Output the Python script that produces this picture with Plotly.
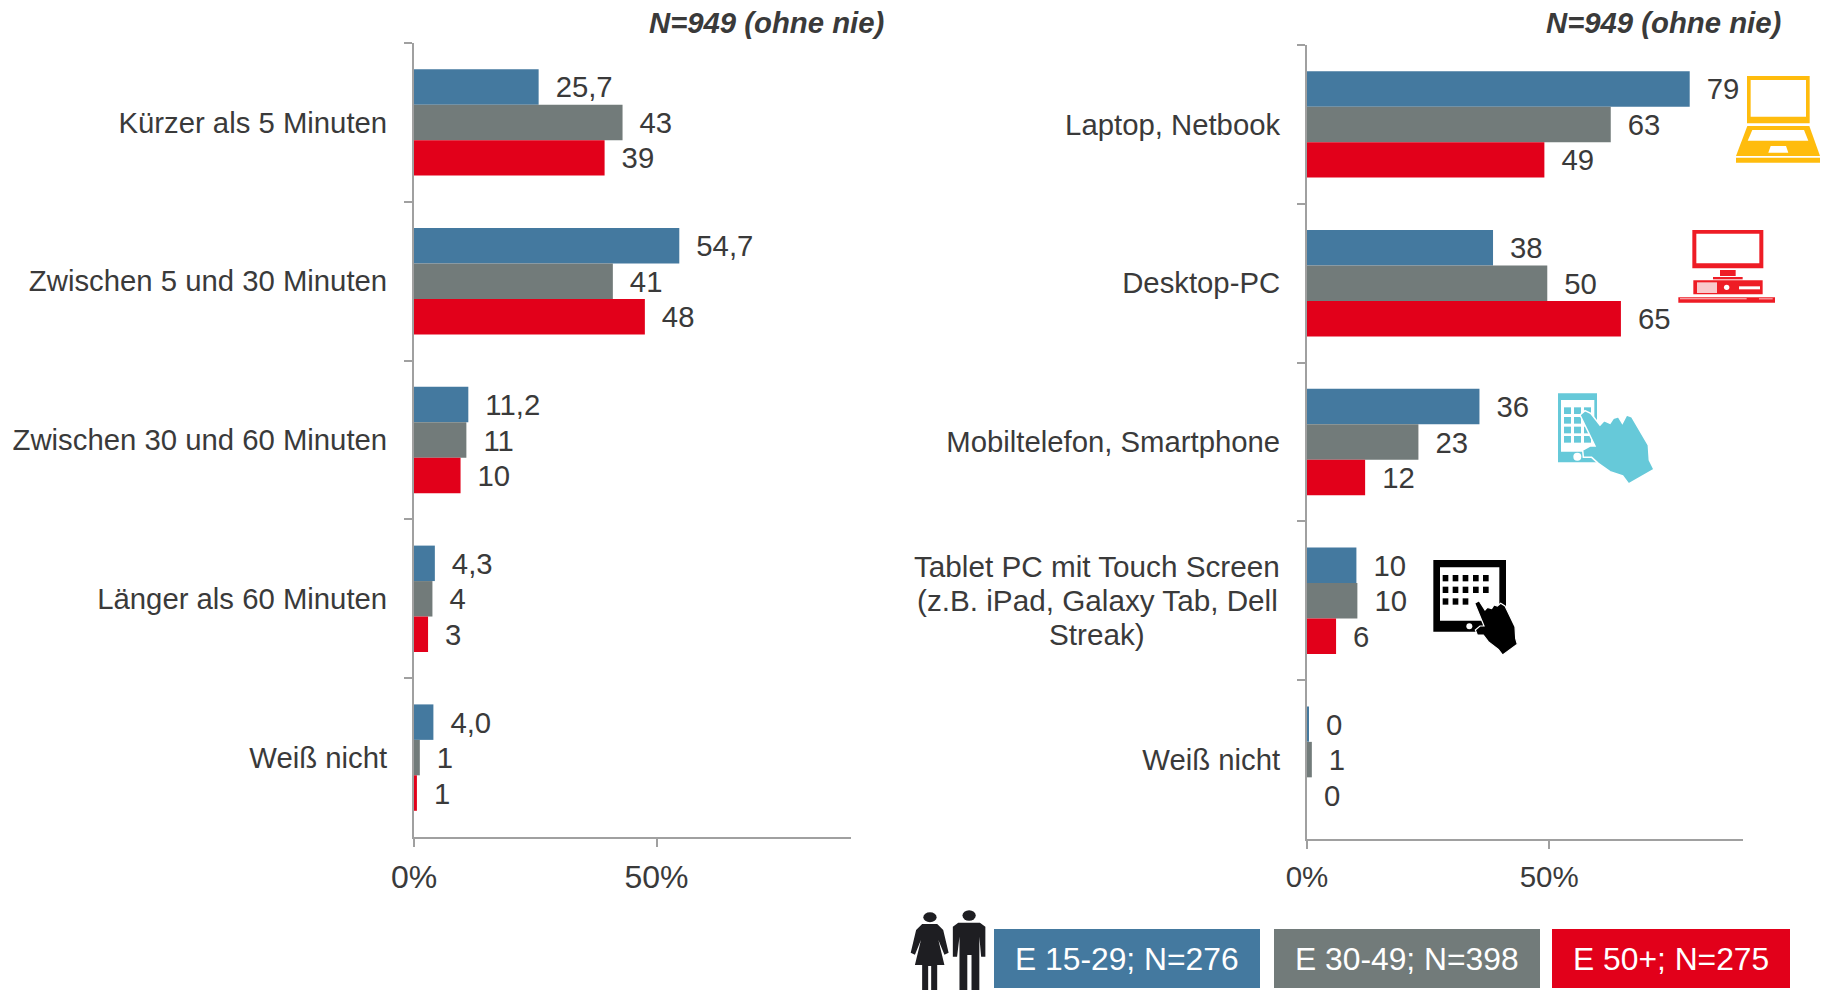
import plotly.graph_objects as go

W, H = 1824, 990
FONT = "Liberation Sans, Arial, sans-serif"
TXT = "#3A3A3A"
BLUE, GRAY, RED = "#44799F", "#727B7A", "#E2001A"
AXIS = "#A0A0A0"
SZ = 29.3

series_names = ["E 15-29; N=276", "E 30-49; N=398", "E 50+; N=275"]
series_colors = [BLUE, GRAY, RED]
title_text = "N=949 (ohne nie)"

left_categories = ["Kürzer als 5 Minuten", "Zwischen 5 und 30 Minuten", "Zwischen 30 und 60 Minuten",
                   "Länger als 60 Minuten", "Weiß nicht"]
left_blue = [25.7, 54.7, 11.2, 4.3, 4.0]
left_gray = [43, 41, 10.8, 3.8, 1.2]
left_red = [39.3, 47.6, 9.6, 2.9, 0.6]
left_blue_labels = ["25,7", "54,7", "11,2", "4,3", "4,0"]
left_gray_labels = ["43", "41", "11", "4", "1"]
left_red_labels = ["39", "48", "10", "3", "1"]

NB = "\u00a0"
GAP = NB + "\u2009"
tablet_lines = ["Tablet PC mit Touch Screen", "(z.B. iPad, Galaxy Tab, Dell", "Streak)"]
tablet_category = " ".join(tablet_lines)
right_categories = ["Laptop, Netbook", "Desktop-PC", "Mobiltelefon, Smartphone", tablet_category, "Weiß nicht"]
right_blue = [79, 38.4, 35.6, 10.2, 0.4]
right_gray = [62.7, 49.6, 23, 10.4, 1]
right_red = [49, 64.8, 12, 6, 0]
right_blue_labels = ["79", "38", "36", "10", "0"]
right_gray_labels = ["63", "50", "23", "10", "1"]
right_red_labels = ["49", "65", "12", "6", "0"]

tick_vals = [0, 50]
tick_text = ["0%", "50%"]

fig = go.Figure()


def add_group(cats, vals, labels, xa, ya):
    for name, color, v, l in zip(series_names, series_colors, vals, labels):
        fig.add_trace(go.Bar(
            y=cats, x=v, name=name, orientation="h", xaxis=xa, yaxis=ya,
            marker=dict(color=color, line=dict(width=0)),
            text=[GAP + t for t in l], textposition="outside", textangle=0,
            textfont=dict(size=SZ, color=TXT, family=FONT),
            cliponaxis=False, showlegend=False, hoverinfo="skip"))


add_group(left_categories, [left_blue, left_gray, left_red],
          [left_blue_labels, left_gray_labels, left_red_labels], "x", "y")
add_group(right_categories, [right_blue, right_gray, right_red],
          [right_blue_labels, right_gray_labels, right_red_labels], "x2", "y2")


def xaxis(x0, x1, anchor, size):
    return dict(domain=[x0 / W, x1 / W], range=[0, 90], anchor=anchor, tickvals=tick_vals, ticktext=tick_text,
                showgrid=False, zeroline=False, showline=True, linecolor=AXIS, linewidth=2,
                ticks="outside", ticklen=8, tickwidth=2, tickcolor=AXIS, ticklabelstandoff=3,
                tickfont=dict(size=size, color=TXT, family=FONT))


def yaxis(y0, y1, anchor):
    return dict(domain=[1 - y1 / H, 1 - y0 / H], anchor=anchor, autorange="reversed", type="category",
                showgrid=False, zeroline=False, showline=True, linecolor=AXIS, linewidth=2,
                ticks="outside", ticklen=8, tickwidth=2, tickcolor=AXIS, tickson="boundaries",
                ticklabelstandoff=19, tickfont=dict(size=SZ, color=TXT, family=FONT))


shapes, annos = [], []


def px(x): return x / W
def py(y): return 1 - y / H


def poly(pts, color, line=None, lw=0):
    d = "M " + " L ".join(f"{px(x):.5f},{py(y):.5f}" for x, y in pts) + " Z"
    shapes.append(dict(type="path", path=d, xref="paper", yref="paper", fillcolor=color,
                       line=dict(color=line or color, width=lw)))


def rect(x0, y0, x1, y1, color):
    shapes.append(dict(type="rect", xref="paper", yref="paper", x0=px(x0), x1=px(x1), y0=py(y0), y1=py(y1),
                       fillcolor=color, line=dict(width=0)))


def circ(cx, cy, r, color):
    shapes.append(dict(type="circle", xref="paper", yref="paper", x0=px(cx - r), x1=px(cx + r),
                       y0=py(cy - r), y1=py(cy + r), fillcolor=color, line=dict(width=0)))


# Laptop icon
YEL = "#FFBC0D"
def lx(v): return 1540 + v / 3
def ly(v): return 50 + v / 3
rect(lx(621), ly(78), lx(809), ly(220), YEL)
rect(lx(632), ly(90), lx(798), ly(200), "white")
poly([(lx(622), ly(228)), (lx(808), ly(228)), (lx(840), ly(318)), (lx(588), ly(318))], YEL)
poly([(lx(637), ly(240)), (lx(792), ly(240)), (lx(805), ly(272)), (lx(623), ly(272))], "white")
poly([(lx(692), ly(288)), (lx(738), ly(288)), (lx(745), ly(308)), (lx(685), ly(308))], "white")
rect(lx(588), ly(323), lx(840), ly(338), YEL)

# Desktop icon
DR = "#EE1C25"
rect(lx(457), ly(540), lx(670), ly(655), DR)
rect(lx(469), ly(551), lx(658), ly(640), "white")
rect(lx(540), ly(660), lx(587), ly(678), DR)
rect(lx(519), ly(681), lx(608), ly(688), DR)
rect(lx(460), ly(691), lx(668), ly(733), DR)
rect(lx(471), ly(697), lx(531), ly(729), "#F9C9CC")
circ(lx(560), ly(712), 2.7, "white")
rect(lx(597), ly(709), lx(660), ly(718), "white")
rect(lx(415), ly(742), lx(705), ly(758), DR)
rect(lx(420), ly(745), lx(620), ly(748), "#F9C9CC")
rect(lx(657), ly(745), lx(698), ly(748), "#F9C9CC")

# Phone icon
CY = "#66C9D9"
def tx(v): return 1400 + v / 3
def ty(v): return 370 + v / 3
rect(tx(474), ty(70), tx(591), ty(277), CY)
rect(tx(483), ty(90), tx(583), ty(245), "white")
for ry in (112, 141, 170, 198):
    for rx in (492, 522, 552):
        rect(tx(rx), ty(ry), tx(rx + 21), ty(ry + 20), CY)
circ(tx(532), ty(260), 4, "white")
hand1 = [(540, 135), (555, 122), (572, 130), (600, 165), (612, 152), (630, 160), (640, 145), (655, 140), (667, 160),
         (680, 135), (695, 140), (745, 225), (748, 270), (762, 298), (686, 342), (668, 318), (630, 305), (595, 280),
         (575, 262), (550, 262), (548, 240), (570, 228), (585, 228)]
poly([(tx(a), ty(b)) for a, b in hand1], CY, "white", 1.5)

# Tablet icon
BK = "#000000"
rect(tx(100), ty(570), tx(318), ty(785), BK)
rect(tx(120), ty(592), tx(298), ty(752), "white")
for i, ry in enumerate((615, 650, 685)):
    for rx in (128, 158, 188, 219, 249)[: 3 if i == 2 else 5]:
        rect(tx(rx), ty(ry), tx(rx + 17), ty(ry + 19), BK)
circ(tx(208), ty(769), 3, "white")
hand2 = [(224, 700), (237, 692), (255, 720), (262, 712), (275, 716), (282, 705), (292, 708), (302, 700), (315, 708),
         (345, 770), (347, 805), (352, 823), (308, 855), (295, 838), (265, 815), (250, 795), (232, 795), (226, 780),
         (240, 768), (252, 768)]
poly([(tx(a), ty(b)) for a, b in hand2], BK, "white", 1.2)

# People icon
PC = "#1E1E22"
def qx(v): return 880 + v / 1.661
def qy(v): return 880 + v / 3
shapes.append(dict(type="circle", xref="paper", yref="paper", x0=px(qx(72)), x1=px(qx(94)), y0=py(qy(97)),
                   y1=py(qy(127)), fillcolor=PC, line=dict(width=0)))
shapes.append(dict(type="circle", xref="paper", yref="paper", x0=px(qx(137)), x1=px(qx(159)), y0=py(qy(91)),
                   y1=py(qy(122)), fillcolor=PC, line=dict(width=0)))
woman = [(70, 132), (95, 132), (105, 150), (114, 218), (107, 224), (97, 180), (107, 255), (95, 255), (95, 330),
         (85, 330), (85, 258), (80, 258), (80, 330), (70, 330), (70, 255), (58, 255), (68, 180), (58, 224),
         (51, 218), (60, 150)]
man = [(130, 128), (166, 128), (175, 140), (175, 230), (168, 230), (165, 170), (165, 330), (152, 330), (152, 225),
       (145, 225), (145, 330), (132, 330), (132, 170), (128, 230), (121, 230), (121, 140)]
poly([(qx(a), qy(b)) for a, b in woman], PC)
poly([(qx(a), qy(b)) for a, b in man], PC)

# Legend boxes
boxes = [(994, 1260), (1274, 1540), (1552, 1790)]
for (x0, x1), name, color in zip(boxes, series_names, series_colors):
    rect(x0, 929, x1, 988, color)
    annos.append(dict(x=px((x0 + x1) / 2), y=py(959), xref="paper", yref="paper", text=name, showarrow=False,
                      xanchor="center", yanchor="middle", font=dict(size=31.8, color="white", family=FONT)))

for xr in (886, 1783):
    annos.append(dict(x=px(xr), y=py(22), xref="paper", yref="paper", text=f"<b><i>{title_text}</i></b>",
                      showarrow=False, xanchor="right", yanchor="middle",
                      font=dict(size=SZ, color=TXT, family=FONT)))

# Centred three-line tablet label
for line, yy in zip(tablet_lines, (566.5, 600.5, 634)):
    annos.append(dict(x=px(1097), y=py(yy), xref="paper", yref="paper", text=line, showarrow=False,
                      xanchor="center", yanchor="middle", font=dict(size=29.7, color=TXT, family=FONT)))

y2 = yaxis(45, 839, "x2")
y2["labelalias"] = {tablet_category: NB}

fig.update_layout(
    width=W, height=H, margin=dict(l=0, r=0, t=0, b=0, pad=0, autoexpand=False),
    plot_bgcolor="white", paper_bgcolor="white",
    barmode="group", bargap=0.33, bargroupgap=0, uniformtext=dict(mode=False),
    font=dict(family=FONT, color=TXT),
    xaxis=xaxis(414, 850.5, "y", 32), yaxis=yaxis(43, 837, "x"),
    xaxis2=xaxis(1307, 1743, "y2", 29.5), yaxis2=y2,
    shapes=shapes, annotations=annos,
)

fig.write_html("out.html", config={"displayModeBar": False},
               post_script="document.body.style.margin='0';document.body.style.overflow='hidden';")
